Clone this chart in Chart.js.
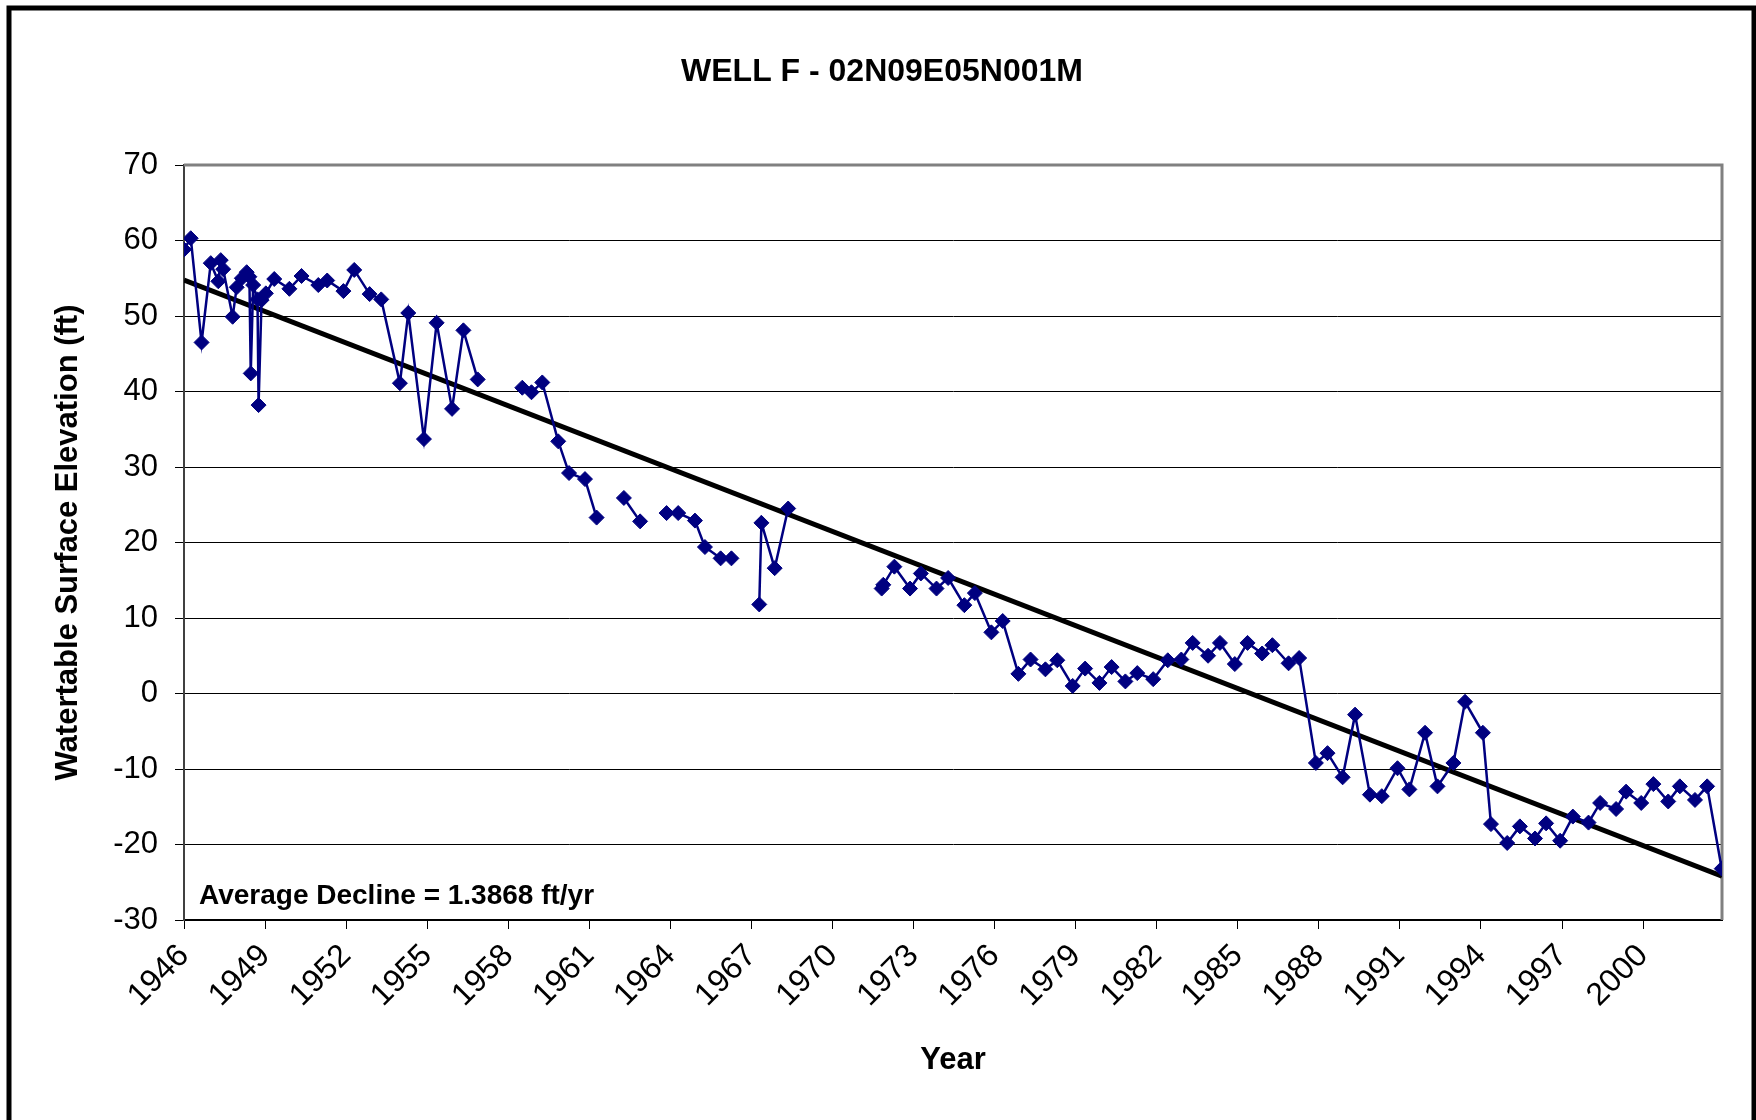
<!DOCTYPE html>
<html>
<head>
<meta charset="utf-8">
<title>WELL F - 02N09E05N001M</title>
<script src="https://cdn.jsdelivr.net/npm/chart.js@4.4.1/dist/chart.umd.min.js"></script>
<style>
  html, body { margin: 0; padding: 0; background: #fff; }
  #wrap { width: 1756px; height: 1120px; }
</style>
</head>
<body>
<div id="wrap"><canvas id="well-chart" width="1756" height="1120"></canvas></div>
<script>
// measurement dates (decimal years) and watertable elevation (ft); null = no reading (line break)
const years = [
    1946.00, 1946.25, 1946.65, 1946.99, 1947.27, 1947.36, 1947.45, 1947.80, 1947.95, 1948.14,
    1948.32, 1948.42, 1948.47, 1948.56, 1948.72, 1948.76, 1948.87, 1949.03, 1949.34, 1949.90,
    1950.35, 1950.97, 1951.30, 1951.90, 1952.30, 1952.87, 1953.30, 1953.99, 1954.30, 1954.88,
    1955.35, 1955.92, 1956.34, 1956.87, 1957.50,
    1958.52, 1958.86, 1959.26, 1959.85, 1960.25, 1960.84, 1961.27, 1961.80,
    1962.28, 1962.88, 1963.40,
    1963.86, 1964.29, 1964.91, 1965.28, 1965.86, 1966.26, 1966.80,
    1967.29, 1967.37, 1967.86, 1968.36, 1970.00,
    1971.82, 1971.88, 1972.29, 1972.87, 1973.27, 1973.85, 1974.28, 1974.88, 1975.27, 1975.88,
    1976.30, 1976.88, 1977.33, 1977.88, 1978.32, 1978.89, 1979.35, 1979.88, 1980.33, 1980.84,
    1981.28, 1981.87, 1982.41, 1982.91, 1983.33, 1983.90, 1984.34, 1984.89, 1985.36, 1985.90,
    1986.28, 1986.88, 1987.27, 1987.89, 1988.32, 1988.88, 1989.34, 1989.89, 1990.33, 1990.91,
    1991.35, 1991.93, 1992.39, 1992.98, 1993.41, 1994.07, 1994.37, 1994.97, 1995.44, 1996.00,
    1996.41, 1996.93, 1997.40, 1997.98, 1998.41, 1999.00, 1999.37, 1999.93, 2000.38, 2000.93,
    2001.36, 2001.92, 2002.37, 2002.91
];
const levels = [
    58.8, 60.3, 46.5, 57.0, 54.6, 57.4, 56.2, 49.9, 53.8, 55.0,
    55.8, 55.2, 42.4, 54.1, 52.2, 38.2, 52.1, 53.0, 54.9, 53.6,
    55.3, 54.1, 54.7, 53.3, 56.1, 52.9, 52.2, 41.1, 50.4, 33.7,
    49.1, 37.7, 48.1, 41.6, null,
    40.5, 39.9, 41.2, 33.4, 29.2, 28.4, 23.3, null,
    25.9, 22.8, null,
    23.9, 23.9, 22.9, 19.4, 17.9, 17.9, null,
    11.8, 22.6, 16.6, 24.5, null,
    13.9, 14.4, 16.8, 13.9, 15.9, 13.9, 15.3, 11.7, 13.3, 8.1,
    9.6, 2.6, 4.5, 3.2, 4.4, 1.0, 3.3, 1.4, 3.5, 1.6,
    2.7, 1.9, 4.4, 4.5, 6.7, 5.0, 6.7, 3.9, 6.7, 5.3,
    6.4, 4.0, 4.7, -9.2, -7.9, -11.1, -2.8, -13.4, -13.6, -9.9,
    -12.7, -5.2, -12.3, -9.2, -1.1, -5.2, -17.3, -19.8, -17.6, -19.2,
    -17.2, -19.5, -16.3, -17.1, -14.5, -15.3, -13.0, -14.5, -12.0, -14.3,
    -12.3, -14.1, -12.3, -23.2
];

// linear trend end points
const trendYears = [1946, 2002.92];
const trendLevels = [54.75, -24.2];

const tickYears = [1946, 1949, 1952, 1955, 1958, 1961, 1964, 1967, 1970, 1973,
    1976, 1979, 1982, 1985, 1988, 1991, 1994, 1997, 2000];

const FONT = "'Liberation Sans', Arial, Helvetica, sans-serif";

const framePlugin = {
    id: 'frame',
    beforeDatasetsDraw(chart) {
        const {ctx, chartArea: a} = chart;
        ctx.save();
        ctx.strokeStyle = '#808080';
        ctx.lineWidth = 3;
        ctx.beginPath();
        ctx.moveTo(a.left, a.top);
        ctx.lineTo(a.right, a.top);
        ctx.lineTo(a.right, a.bottom);
        ctx.stroke();
        ctx.font = 'bold 28px ' + FONT;
        ctx.fillStyle = '#000';
        ctx.textBaseline = 'middle';
        ctx.fillText('Average Decline = 1.3868 ft/yr', a.left + 15, a.bottom - 24);
        ctx.restore();
    },
    afterDraw(chart) {
        const ctx = chart.ctx;
        ctx.save();
        ctx.strokeStyle = '#000';
        ctx.lineWidth = 5;
        ctx.strokeRect(9, 8, 1745, 1140);
        ctx.restore();
    }
};

const wellData = years.map((yr, i) => ({x: yr, y: levels[i]}));
const trendData = trendYears.map((yr, i) => ({x: yr, y: trendLevels[i]}));

new Chart(document.getElementById('well-chart'), {
    type: 'line',
    data: {
        datasets: [{
            label: 'Watertable',
            data: wellData,
            borderColor: '#000080',
            backgroundColor: '#000080',
            borderWidth: 2.5,
            pointStyle: 'rectRot',
            pointRadius: 7.5,
            pointBorderWidth: 1,
            spanGaps: false,
            tension: 0
        }, {
            label: 'Trend',
            data: trendData,
            borderColor: '#000',
            borderWidth: 5,
            pointRadius: 0,
            tension: 0
        }]
    },
    options: {
        responsive: false,
        animation: false,
        devicePixelRatio: 1,
        layout: {
            padding: {left: 42, right: 34, top: 0, bottom: 0}
        },
        plugins: {
            legend: {display: false},
            tooltip: {enabled: false},
            title: {
                display: true,
                text: 'WELL F - 02N09E05N001M',
                color: '#000',
                font: {family: FONT, size: 32, weight: 'bold'},
                padding: {top: 53, bottom: 73.6}
            }
        },
        scales: {
            x: {
                type: 'linear',
                min: 1946,
                max: 2002.92,
                afterBuildTicks: scale => {
                    scale.ticks = tickYears.map(v => ({value: v}));
                },
                afterFit: scale => { scale.height = 200; },
                ticks: {
                    autoSkip: false,
                    minRotation: 45,
                    maxRotation: 45,
                    padding: 8,
                    color: '#000',
                    font: {family: FONT, size: 32},
                    callback: v => String(v)
                },
                grid: {
                    drawOnChartArea: false,
                    drawTicks: true,
                    tickLength: 9,
                    color: '#000'
                },
                border: {color: '#000', width: 2},
                title: {
                    display: true,
                    text: 'Year',
                    color: '#000',
                    font: {family: FONT, size: 31, weight: 'bold'},
                    padding: {top: 0, bottom: 41}
                }
            },
            y: {
                min: -30,
                max: 70,
                afterFit: scale => { scale.width = 142; },
                ticks: {
                    stepSize: 10,
                    padding: 17,
                    color: '#000',
                    font: {family: FONT, size: 31}
                },
                grid: {
                    color: '#000',
                    lineWidth: 1,
                    tickLength: 9
                },
                border: {color: '#404040', width: 2},
                title: {
                    display: true,
                    text: 'Watertable Surface Elevation (ft)',
                    color: '#000',
                    font: {family: FONT, size: 31, weight: 'bold'},
                    padding: {top: 7.4, bottom: 0}
                }
            }
        }
    },
    plugins: [framePlugin]
});
</script>
</body>
</html>
